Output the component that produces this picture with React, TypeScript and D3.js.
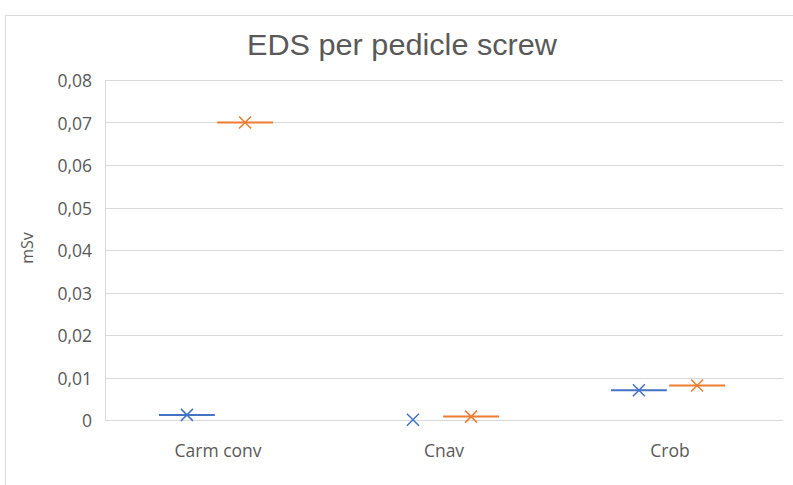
import React from "react";
import * as d3 from "d3";

const categories = ["Carm conv", "Cnav", "Crob"];
const seriesNames = ["Series A", "Series B"];
const seriesColors = ["#4472C4", "#ED7D31"];
// box (median/quartile collapsed) values; null = no visible box
const boxA: (number | null)[] = [0.0012, null, 0.007];
const boxB: (number | null)[] = [0.07, 0.0008, 0.0081];
// mean markers
const meanA = [0.0012, 0.00005, 0.007];
const meanB = [0.07, 0.0008, 0.0081];
const yTicks = [0, 0.01, 0.02, 0.03, 0.04, 0.05, 0.06, 0.07, 0.08];
const title = "EDS per pedicle screw";
const yTitle = "mSv";

const W = 793;
const H = 485;
const plot = { left: 105, right: 783, top: 80, bottom: 420 };

export default function App() {
  const x = d3.scaleBand<string>().domain(categories).range([plot.left, plot.right]);
  const y = d3.scaleLinear().domain([0, 0.08]).range([plot.bottom, plot.top]);
  const half = x.bandwidth() / 2;
  const inner = d3.scaleBand<number>().domain([0, 1]).range([half - 59, half + 55]).paddingInner(0.04);
  const fmt = (v: number) => (v === 0 ? "0" : d3.format(".2f")(v).replace(".", ","));
  const boxes = [boxA, boxB];
  const means = [meanA, meanB];
  const font = "'Open Sans', 'Noto Sans', sans-serif";
  return (
    <div style={{ position: "fixed", left: 0, top: 0 }}>
      <svg width={W} height={H} style={{ display: "block", background: "#fff" }}>
        <rect x={5.5} y={15.5} width={W} height={H} fill="none" stroke="#d9d9d9" strokeWidth={1} />
        <text x={402} y={55} textAnchor="middle" fontFamily="'Liberation Sans', Arial, sans-serif" fontSize={29} fill="#595959" textLength={310} lengthAdjust="spacingAndGlyphs">
          {title}
        </text>
        {yTicks.map((t) => (
          <g key={t}>
            <line x1={plot.left} x2={plot.right} y1={Math.round(y(t)) + 0.5} y2={Math.round(y(t)) + 0.5} stroke="#d9d9d9" strokeWidth={1} />
            <text x={92} y={y(t) + 1} dy="0.35em" textAnchor="end" fontFamily={font} fontSize={17.5} fill="#595959">
              {fmt(t)}
            </text>
          </g>
        ))}
        <line x1={plot.left + 0.5} x2={plot.left + 0.5} y1={plot.top} y2={plot.bottom} stroke="#d9d9d9" />
        <text transform={`translate(33,${(plot.top + plot.bottom) / 2 - 2}) rotate(-90)`} textAnchor="middle" fontFamily={font} fontSize={16} fill="#595959">
          {yTitle}
        </text>
        {categories.map((c) => (
          <text key={c} x={(x(c) ?? 0) + half} y={457} textAnchor="middle" fontFamily={font} fontSize={17.5} fill="#595959">
            {c}
          </text>
        ))}
        {seriesNames.map((s, si) =>
          categories.map((c, ci) => {
            const x0 = (x(c) ?? 0) + (inner(si) ?? 0);
            const bw = inner.bandwidth();
            const bv = boxes[si][ci];
            const mv = means[si][ci];
            const cx = x0 + bw / 2;
            const cy = y(mv);
            const r = 6;
            return (
              <g key={s + c} stroke={seriesColors[si]}>
                {bv !== null && (
                  <line x1={x0} x2={x0 + bw} y1={y(bv)} y2={y(bv)} strokeWidth={2} />
                )}
                <path d={`M${cx - r},${cy - r}L${cx + r},${cy + r}M${cx - r},${cy + r}L${cx + r},${cy - r}`} strokeWidth={1.5} fill="none" />
              </g>
            );
          })
        )}
      </svg>
    </div>
  );
}
